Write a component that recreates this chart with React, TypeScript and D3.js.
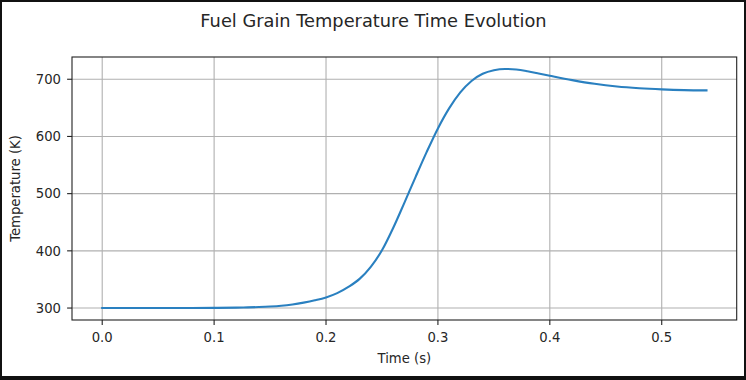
import React from "react";
import * as d3 from "d3";

const times: number[] = [
  0.0, 0.02, 0.04, 0.06, 0.08, 0.1, 0.12, 0.13, 0.14, 0.15, 0.16, 0.17, 0.18, 0.19, 0.2,
  0.21, 0.22, 0.23, 0.24, 0.25, 0.26, 0.27, 0.28, 0.29, 0.3, 0.31, 0.32, 0.33, 0.34,
  0.35, 0.36, 0.37, 0.38, 0.39, 0.4, 0.42, 0.44, 0.46, 0.48, 0.5, 0.52, 0.54,
];
const temps: number[] = [
  300, 300, 300, 300, 300.1, 300.3, 300.7, 301.1, 301.7, 302.6, 304, 306.3, 309.5, 313.5, 318.5,
  326, 337, 351, 372, 401, 440, 484, 529, 573, 614, 649, 677, 697, 709.5,
  715.8, 718, 717, 714, 710.2, 706.2, 698.5, 692, 687.3, 684.3, 682.3, 681, 680.5,
];
const xTicks: number[] = [0.0, 0.1, 0.2, 0.3, 0.4, 0.5];
const yTicks: number[] = [300, 400, 500, 600, 700];

const W = 746;
const H = 380;
const left = 72;
const right = 736.7;
const top = 57;
const bottom = 320;
const font = "'DejaVu Sans', sans-serif";
const txt = "#262626";

export default function App() {
  const data = times.map((t, i) => ({ t, v: temps[i] }));
  const [x0, x1] = d3.extent(times) as [number, number];
  const [y0, y1] = d3.extent(temps) as [number, number];
  const xp = (x1 - x0) * 0.05;
  const yp = (y1 - y0) * 0.05;
  const x = d3.scaleLinear().domain([x0 - xp, x1 + xp]).range([left, right]);
  const y = d3.scaleLinear().domain([y0 - yp, y1 + yp]).range([bottom, top]);
  const line = d3
    .line<{ t: number; v: number }>()
    .x((d) => x(d.t))
    .y((d) => y(d.v))
    .curve(d3.curveMonotoneX);

  return (
    <svg
      width={W}
      height={H}
      style={{ position: "absolute", left: 0, top: 0 }}
      fontFamily={font}
    >
      <rect x={0} y={0} width={W} height={H} fill="#111" />
      <rect x={2} y={2} width={742} height={374} fill="#fff" />
      <text x={373.5} y={27} textAnchor="middle" fontSize={17.8} fill={txt}>
        Fuel Grain Temperature Time Evolution
      </text>
      {xTicks.map((t) => (
        <g key={"x" + t}>
          <line x1={x(t)} x2={x(t)} y1={top} y2={bottom} stroke="#b0b0b0" strokeWidth={1.1} />
          <line x1={x(t)} x2={x(t)} y1={bottom} y2={bottom + 4.9} stroke="#222" strokeWidth={1.1} />
          <text x={x(t)} y={341.5} textAnchor="middle" fontSize={13.2} fill={txt}>
            {d3.format(".1f")(t)}
          </text>
        </g>
      ))}
      {yTicks.map((v) => (
        <g key={"y" + v}>
          <line x1={left} x2={right} y1={y(v)} y2={y(v)} stroke="#b0b0b0" strokeWidth={1.1} />
          <line x1={left - 4.9} x2={left} y1={y(v)} y2={y(v)} stroke="#222" strokeWidth={1.1} />
          <text x={61} y={y(v) + 4.8} textAnchor="end" fontSize={13.2} fill={txt}>
            {v}
          </text>
        </g>
      ))}
      <path d={line(data) || ""} fill="none" stroke="#2a80c0" strokeWidth={2.1} strokeLinecap="square" />
      <rect
        x={left}
        y={top}
        width={right - left}
        height={bottom - top}
        fill="none"
        stroke="#222"
        strokeWidth={1.1}
      />
      <text x={(left + right) / 2} y={363} textAnchor="middle" fontSize={13.2} fill={txt}>
        Time (s)
      </text>
      <text
        transform={`translate(20,${(top + bottom) / 2}) rotate(-90)`}
        textAnchor="middle"
        fontSize={13.2}
        fill={txt}
      >
        Temperature (K)
      </text>
    </svg>
  );
}
